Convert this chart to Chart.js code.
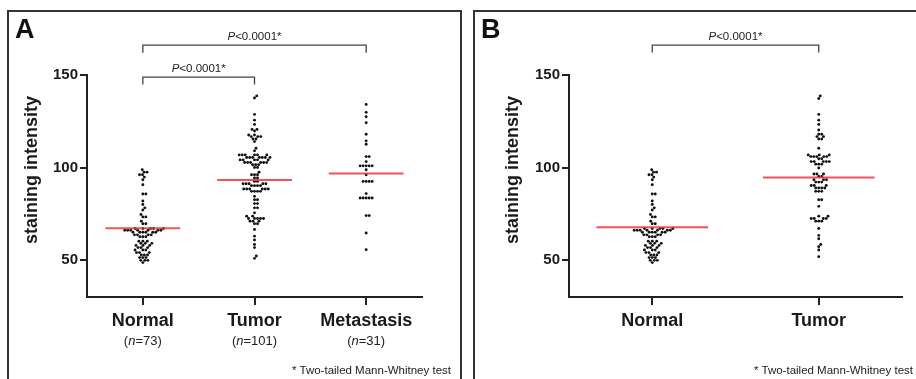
<!DOCTYPE html>
<html>
<head>
<meta charset="utf-8">
<script src="https://cdn.jsdelivr.net/npm/chart.js@4.4.1/dist/chart.umd.min.js"></script>
<style>
  html,body{margin:0;padding:0;background:#fff;width:916px;height:379px;overflow:hidden;font-family:"Liberation Sans",Arial,sans-serif;}
  .panel{position:absolute;top:10px;height:384px;border:2px solid #333;box-sizing:border-box;}
  #pA{left:7px;width:455px;}
  #pB{left:473px;width:452px;}
  .wrap{position:absolute;left:0;top:0;height:366px;}
  #pA .wrap{width:451px;}
  #pB .wrap{width:441px;}
  .tag{position:absolute;top:4px;font-weight:bold;font-size:27px;line-height:1;color:#111;}
  .note{position:absolute;top:353px;font-size:11.5px;line-height:1;color:#222;white-space:nowrap;}
</style>
</head>
<body>
<div class="panel" id="pA">
  <div class="wrap"><canvas id="chartA"></canvas></div>
  <div class="tag" style="left:6px">A</div>
  <div class="note" style="right:9px">* Two-tailed Mann-Whitney test</div>
</div>
<div class="panel" id="pB">
  <div class="wrap"><canvas id="chartB"></canvas></div>
  <div class="tag" style="left:6px">B</div>
  <div class="note" style="right:10px">* Two-tailed Mann-Whitney test</div>
</div>
<script>
(function(){
  // categories and tick values
  const groupsA = ['Normal', 'Tumor', 'Metastasis'];
  const groupsB = ['Normal', 'Tumor'];
  const countsA = [73, 101, 31];
  const yTicks = [50, 100, 150];
  const pText = '<0.0001*';

  // staining intensity per sample
  const normalVals = [
    98.8, 97.5, 97.5, 96.1, 96.1, 94.8, 93.4, 90.7, 85.7, 85.7,
    81.9, 80, 78.2, 77, 74.6, 73.3, 73.3, 71, 69.6, 69.6,
    67, 67, 67, 67, 67, 66.1, 66.1, 66.1, 66.1, 66.1, 66.1, 66.1,
    65, 65, 65, 65, 65, 65, 63.6, 63.6, 63.6, 63.6, 62.6, 62.6, 62.6,
    60.2, 60.2, 60.2, 59, 59, 59, 57.9, 57.9, 57.9, 56.7, 56.7, 56.7,
    55.4, 55.4, 55.4, 54, 54, 54, 52.7, 52.7, 52.7, 51.3, 51.3, 51.3,
    49.8, 49.8, 49.8, 48.6
  ];
  const tumorVals = [
    138.7, 137.6, 128.7, 125.6, 123.3, 120.6, 120.6, 119.7, 117.6, 117.6,
    116.7, 116.7, 116.7, 115.4, 115.4, 114, 110.4, 109,
    106.8, 106.8, 106.8, 106.8, 106.8, 106.8,
    105.4, 105.4, 105.4, 105.4, 105.4, 105.4, 105.4,
    104.1, 104.1, 104.1, 104.1, 104.1,
    102.7, 102.7, 102.7, 102.7, 102.7, 102.7,
    101.5, 101.5, 101.5, 100, 100,
    97.5, 96.1, 96.1, 96.1, 94.3, 94.3, 92.5, 92.5,
    91.2, 91.2, 91.2, 91.2, 91.2, 90.2, 90.2, 90.2, 90.2,
    88.4, 88.4, 88.4, 88.4, 88.4, 88.4, 87.1, 87.1, 87.1, 87.1,
    84.4, 82.6, 82.6, 80.5, 80.5, 78.2, 78.2, 75.5,
    73.7, 73.7, 72.4, 72.4, 72.4, 72.4, 72.4, 71, 71, 71, 69.6, 69.6,
    66.5, 62.9, 60.8, 58.4, 56.7, 52.2, 50.9
  ];
  const metaVals = [
    134.1, 129.8, 127.4, 124.2, 118, 114.4, 112.6,
    105.9, 105.9, 103.2, 100.9, 100.9, 100.9, 100.9, 100.9, 98.8, 96.1,
    92.5, 92.5, 92.5, 92.5, 85.9, 83.5, 83.5, 83.5, 83.5, 83.5,
    74, 74, 64.6, 55.6
  ];
  const tumorValsB = [
    138.7, 137.3, 128.7, 125.6, 123.3, 120.3, 118, 118, 116.7, 116.7, 115.4, 115.4, 110.4,
    106.8, 106.8, 106.8, 105.9, 105.9, 105.9, 105.9, 105.9, 104.7, 104.7,
    103.2, 103.2, 103.2, 103.2, 103.2, 101.8, 101.8, 101.8, 99.7,
    96.5, 96.5, 96.5, 95.2, 95.2, 93.4, 93.4, 93.4, 92.1, 92.1, 92.1,
    90.3, 90.3, 90.3, 88.9, 88.9, 88.9, 88.9, 87.1, 87.1, 87.1,
    82.6, 82.6, 79,
    73.7, 73.7, 72.4, 72.4, 72.4, 72.4, 71, 71, 71,
    67, 63.3, 61.5, 58.4, 57.2, 55.4, 51.8
  ];
  // red bars (group means)
  const meansA = [67.2, 93.2, 96.8];
  const meansB = [67.7, 94.6];

  const F = '"Liberation Sans", Arial, Helvetica, sans-serif';
  const INK = '#1a1a1a';
  const RED = 'rgba(238,52,62,0.85)';
  const HALF = 0.335;

  // non-overlapping horizontal offsets (in px) for a column of dots
  function swarm(vals, pxY, d){
    const order = vals.map((v, i) => i).sort((a, b) => vals[a] - vals[b]);
    const placed = [], out = [];
    order.forEach(i => {
      const y = vals[i] * pxY;
      const near = placed.filter(p => Math.abs(p.y - y) < d);
      const cands = [0];
      near.forEach(p => { const dx = Math.sqrt(d*d - (p.y - y)*(p.y - y)); cands.push(p.x + dx, p.x - dx); });
      cands.sort((a, b) => Math.abs(a) - Math.abs(b));
      const x = cands.find(c => near.every(p => (p.x - c)*(p.x - c) + (p.y - y)*(p.y - y) >= d*d - 0.01));
      placed.push({ x, y }); out[i] = x;
    });
    return out;
  }

  function mixed(ctx, parts, cx, y){
    const w = parts.reduce((s, p) => { ctx.font = p[1]; return s + ctx.measureText(p[0]).width; }, 0);
    let x = cx - w / 2;
    parts.forEach(p => { ctx.font = p[1]; ctx.fillText(p[0], x, y); x += ctx.measureText(p[0]).width; });
  }

  const annot = {
    id: 'annot',
    afterDraw(chart, args, o){
      const { ctx, chartArea: a, scales: { x, y } } = chart;
      ctx.save();
      ctx.fillStyle = INK;
      // y title
      ctx.save();
      ctx.translate(o.titleX, a.top + 95);
      ctx.rotate(-Math.PI / 2);
      ctx.font = 'bold 18px ' + F;
      ctx.textAlign = 'center'; ctx.textBaseline = 'middle';
      ctx.fillText('staining intensity', 0, 0);
      ctx.restore();
      // significance brackets
      ctx.strokeStyle = '#444'; ctx.lineWidth = 1.3;
      ctx.textAlign = 'left'; ctx.textBaseline = 'alphabetic';
      o.brackets.forEach(b => {
        const x1 = x.getPixelForValue(b.from), x2 = x.getPixelForValue(b.to), yy = y.getPixelForValue(b.level);
        ctx.beginPath();
        ctx.moveTo(x1, yy + 7.5); ctx.lineTo(x1, yy); ctx.lineTo(x2, yy); ctx.lineTo(x2, yy + 7.5);
        ctx.stroke();
        ctx.fillStyle = '#222';
        mixed(ctx, [['P', 'italic 11.5px ' + F], [pText, '11.5px ' + F]], (x1 + x2) / 2, yy - 5);
      });
      // group sizes
      if (o.counts) {
        ctx.fillStyle = '#222';
        o.counts.forEach((n, i) => {
          mixed(ctx, [['(', '13px ' + F], ['n', 'italic 13px ' + F], ['=' + n + ')', '13px ' + F]],
            x.getPixelForValue(i), a.bottom + 48);
        });
      }
      ctx.restore();
    }
  };

  function build(id, cats, series, means, cfg){
    const datasets = means.map((m, i) => ({
      data: [{ x: i - HALF, y: m }, { x: i + HALF, y: m }],
      showLine: true, borderColor: RED, borderWidth: 2, pointRadius: 0, order: 0
    }));
    series.forEach((vals, i) => datasets.push({
      data: vals.map(v => ({ x: i, y: v })), vals, cat: i,
      pointRadius: 1.45, pointBackgroundColor: '#111', pointBorderWidth: 0, order: 1
    }));
    const axisGrid = { drawOnChartArea: false, drawTicks: true, color: '#222', lineWidth: 2 };
    const chart = new Chart(document.getElementById(id), {
      type: 'scatter',
      data: { datasets },
      options: {
        responsive: true, maintainAspectRatio: false, animation: false, events: [],
        layout: { padding: { left: 0, top: 63, right: cfg.padRight, bottom: 21 } },
        plugins: { legend: { display: false }, tooltip: { enabled: false }, annot: cfg.annot },
        scales: {
          x: {
            type: 'linear', min: -0.5, max: cats.length - 0.5,
            afterBuildTicks: s => { s.ticks = cats.map((c, i) => ({ value: i })); },
            afterFit: s => { s.height = 60; },
            ticks: { callback: v => cats[v], font: { family: F, size: 18, weight: 'bold' }, color: INK, padding: 5, maxRotation: 0, autoSkip: false },
            grid: Object.assign({ tickLength: 8 }, axisGrid),
            border: { display: true, color: '#222', width: 2 }
          },
          y: {
            type: 'linear', min: 30, max: 150,
            afterBuildTicks: s => { s.ticks = yTicks.map(v => ({ value: v })); },
            afterFit: s => { s.width = cfg.yWidth; },
            ticks: { font: { family: F, size: 15, weight: 'bold' }, color: INK, padding: 2 },
            grid: Object.assign({ tickLength: 7 }, axisGrid),
            border: { display: true, color: '#222', width: 2 }
          }
        }
      },
      plugins: [annot]
    });
    // lay the dots out as a swarm using the scales' pixel sizes
    const pxX = Math.abs(chart.scales.x.getPixelForValue(1) - chart.scales.x.getPixelForValue(0));
    const pxY = Math.abs(chart.scales.y.getPixelForValue(100) - chart.scales.y.getPixelForValue(50)) / 50;
    chart.data.datasets.forEach(ds => {
      if (!ds.vals) return;
      const offs = swarm(ds.vals, pxY, 3.0);
      ds.data = ds.vals.map((v, k) => ({ x: ds.cat + offs[k] / pxX, y: v }));
    });
    chart.update('none');
    return chart;
  }

  build('chartA', groupsA, [normalVals, tumorVals, metaVals], meansA, {
    padRight: 38, yWidth: 78,
    annot: { titleX: 23, counts: countsA, brackets: [{ from: 0, to: 2, level: 166.1 }, { from: 0, to: 1, level: 148.9 }] }
  });
  build('chartB', groupsB, [normalVals, tumorValsB], meansB, {
    padRight: 14, yWidth: 94,
    annot: { titleX: 38, brackets: [{ from: 0, to: 1, level: 166.2 }] }
  });
})();
</script>
</body>
</html>
